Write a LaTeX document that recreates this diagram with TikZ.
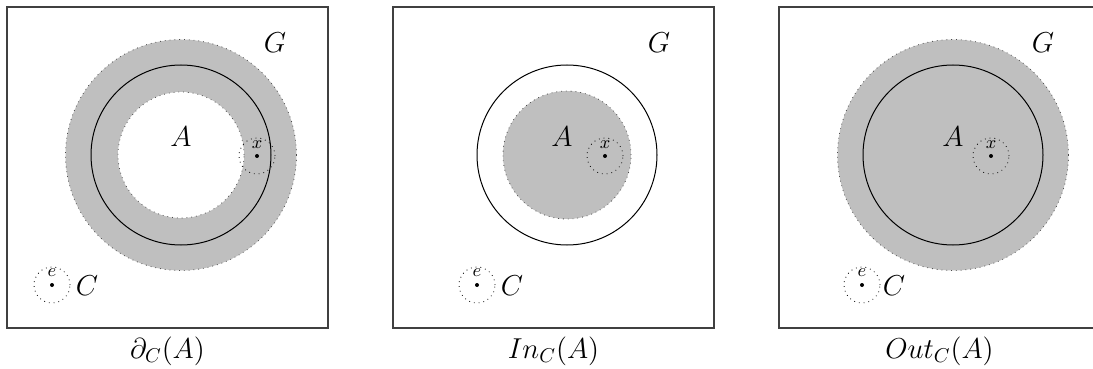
\documentclass[tikz,border=0pt]{standalone}
\begin{document}
\begin{tikzpicture}[x=0.5pt,y=-0.5pt,
  frame/.style={draw=black!75,line width=0.6pt},
  solidc/.style={draw=black,line width=0.5pt},
  nbhd/.style={draw=black,dotted,line width=0.4pt},
  pt/.style={fill=black},
  big/.style={font=\Large},
  small/.style={font=\small,inner sep=0pt}]
\useasboundingbox (0,0) rectangle (1093,369);
% ---------- panel 1 ----------
\draw[frame] (7,7) rectangle (328,328);
\fill[black!25] (181,155) circle[radius=57.75pt];
\fill[white] (181,155) circle[radius=31.5pt];
\draw[nbhd,draw=black!70] (181,155) circle[radius=57.75pt];
\draw[nbhd,draw=black!70] (181,155) circle[radius=31.5pt];
\draw[solidc] (181,155) circle[radius=45pt];
\draw[nbhd] (257,156) circle[radius=9pt];
\fill[pt] (257,156) circle[radius=1pt];
\node[small] (x1) at (257,145) {$x$};
\draw[nbhd] (52,285) circle[radius=9pt];
\fill[pt] (52,285) circle[radius=1pt];
\node[small] (e1) at (52,273) {$e$};
\node[big] (C1) at (87,286) {$C$};
\node[big] (G1) at (275,43) {$G$};
\node[big] (A1) at (181,137) {$A$};
\node[big] (L1) at (167.5,351) {$\partial_C(A)$};
% ---------- panel 2 ----------
\draw[frame] (393,7) rectangle (714,328);
\fill[black!25] (567,155) circle[radius=32pt];
\draw[nbhd,draw=black!70] (567,155) circle[radius=32pt];
\draw[solidc] (567,155) circle[radius=45pt];
\draw[nbhd] (605,156) circle[radius=9pt];
\fill[pt] (605,156) circle[radius=1pt];
\node[small] (x2) at (605,145) {$x$};
\draw[nbhd] (477,285) circle[radius=9pt];
\fill[pt] (477,285) circle[radius=1pt];
\node[small] (e2) at (477,273) {$e$};
\node[big] (C2) at (512,286) {$C$};
\node[big] (G2) at (659,43) {$G$};
\node[big] (A2) at (562,137) {$A$};
\node[big] (L2) at (553.5,351) {$In_C(A)$};
% ---------- panel 3 ----------
\draw[frame] (779,7) rectangle (1100,328);
\fill[black!25] (953,155) circle[radius=57.75pt];
\draw[nbhd,draw=black!70] (953,155) circle[radius=57.75pt];
\draw[solidc] (953,155) circle[radius=45pt];
\draw[nbhd] (991,156) circle[radius=9pt];
\fill[pt] (991,156) circle[radius=1pt];
\node[small] (x3) at (991,145) {$x$};
\draw[nbhd] (862,285) circle[radius=9pt];
\fill[pt] (862,285) circle[radius=1pt];
\node[small] (e3) at (862,273) {$e$};
\node[big] (C3) at (894,286) {$C$};
\node[big] (G3) at (1043,43) {$G$};
\node[big] (A3) at (953,137) {$A$};
\node[big] (L3) at (939.5,351) {$Out_C(A)$};
\end{tikzpicture}
\end{document}
